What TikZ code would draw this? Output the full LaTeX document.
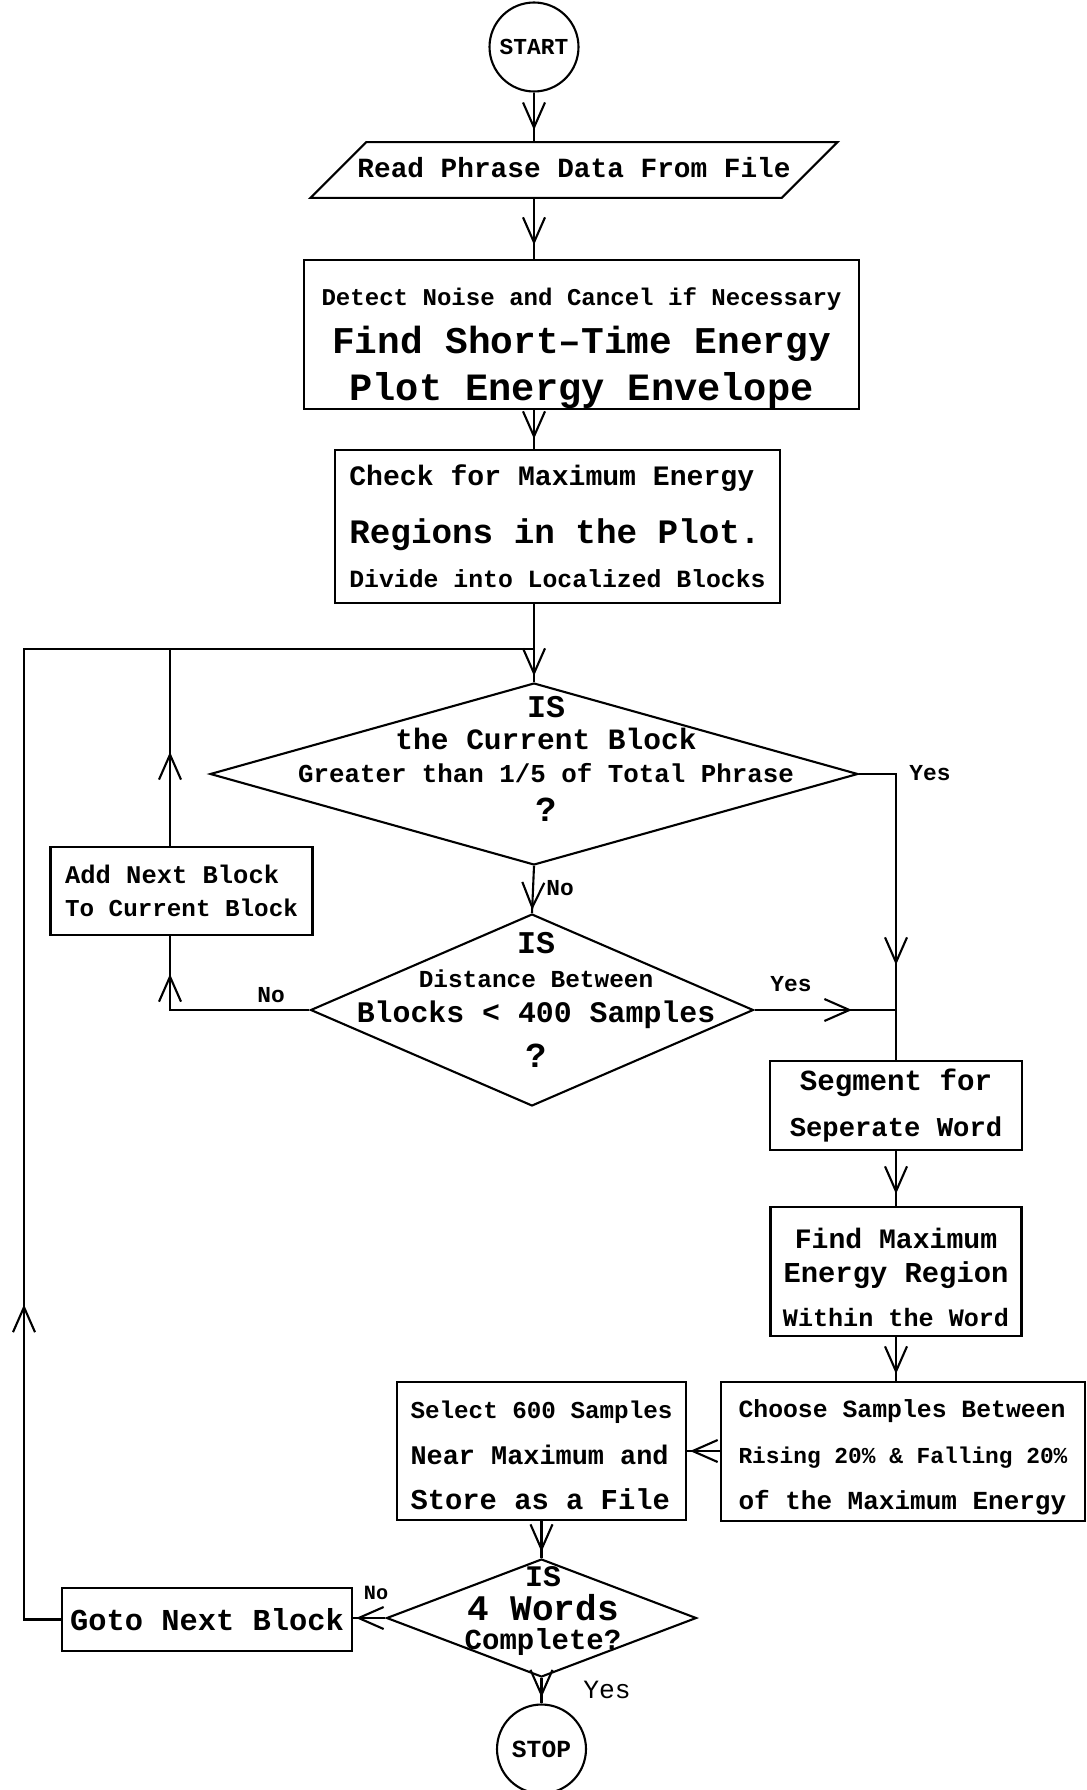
\documentclass[tikz,border=0pt]{standalone}
\usepackage{fontspec}
\setmainfont{Liberation Mono}
\usetikzlibrary{arrows.meta,positioning,shapes.geometric,decorations.markings}
\newcommand\fsz[2]{\fontsize{#1pt}{#2pt}\selectfont}
\tikzset{
  fctip/.tip    = {Straight Barb[length=5mm, width=4.4mm]},
  fcterm/.style = {circle, draw, line width=1.2pt, minimum size=1.78cm, inner sep=0pt},
  fcio/.style   = {trapezium, trapezium left angle=45, trapezium right angle=135,
                   draw, line width=1.2pt, inner xsep=-5pt,
                   inner ysep=8.5pt, text height=11.5pt, text depth=3.2pt,
                   font=\bfseries},
  fcbox/.style  = {rectangle, draw, line width=1.2pt, inner sep=0pt, align=center,
                   font=\bfseries},
  fcdec/.style  = {diamond, draw, line width=1.2pt, inner sep=0pt},
  fctext/.style = {inner sep=0pt, align=center, font=\bfseries},
  fclbl/.style  = {inner sep=1pt, font=\bfseries\fsz{13}{13}},
  fcflow/.style = {line width=1.2pt, postaction={decorate},
                   decoration={markings, mark=at position #1 with {\arrow{fctip}}}},
}
\begin{document}
\begin{tikzpicture}[x=0.02cm, y=-0.02cm]
  \useasboundingbox (0,0) rectangle (1087,1790);

  \node[fcterm, font=\bfseries\fsz{13}{13}] (start) at (534,47) {START};
  \node[fcio, font=\bfseries\fsz{15.8}{16}]
        (read) at (574,170) {Read Phrase Data From File};
  \node[fcbox, minimum width=11.1cm, minimum height=2.98cm, font=\bfseries\fsz{14}{27}]
        (noise) at (581.5,334.5)
        {\rule{0pt}{26pt}\fsz{13.7}{27}Detect Noise and Cancel if Necessary\\
         \fsz{21.5}{27}Find Short–Time Energy\\
         \fsz{22}{27}Plot Energy Envelope};
  \node[fcbox, align=left, minimum width=8.9cm, minimum height=3.06cm,
        font=\bfseries\fsz{14}{32.8}] (check) at (557.5,526.5)
        {\fsz{16}{32.8}Check for Maximum Energy\\
         \fsz{19.5}{32.8}Regions in the Plot.\\[-7.7pt]
         \fsz{14.1}{32.8}Divide into Localized Blocks};

  \coordinate (jtop)  at (534,649);
  \coordinate (loopa) at (170,649);
  \coordinate (lft)   at (24,649);

  \node[fcdec, minimum width=12.96cm, minimum height=3.64cm] (dec1) at (534,774) {};
  \node[fctext, font=\bfseries\fsz{14}{19}] (dec1txt) at (546,759)
        {\fsz{18}{19}IS\\[-0.7pt] \fsz{16.8}{19}the Current Block\\
         \fsz{14.7}{19}Greater than 1/5 of Total Phrase\\[3.2pt] \fsz{20}{19}?};
  \node[fcdec, minimum width=8.86cm, minimum height=3.84cm] (dec2) at (532,1010) {};
  \node[fctext, font=\bfseries\fsz{14}{20}] (dec2txt) at (536,1000)
        {\fsz{18}{20}IS\\[-0.8pt] \fsz{13.9}{20}Distance Between\\
         \fsz{17}{20}Blocks < 400 Samples\\[5.9pt] \fsz{20}{20}?};
  \node[fcbox, align=left, minimum width=5.24cm, minimum height=1.76cm,
        font=\bfseries\fsz{14}{19.1}] (addblk) at (181.5,891)
        {\fsz{14.5}{19.1}Add Next Block\\ \fsz{13.8}{19.1}To Current Block};

  \node[fcbox, minimum width=5.04cm, minimum height=1.78cm, font=\bfseries\fsz{16}{25.8}]
        (seg) at (896,1105.5)
        {\fsz{16.6}{25.8}Segment for\\ \fsz{15.5}{25.8}Seperate Word};
  \node[fcbox, minimum width=5.02cm, minimum height=2.58cm, font=\bfseries\fsz{16}{24.9}]
        (findmax) at (896,1271.5)
        {\rule{0pt}{18pt}\fsz{16}{24.9}Find Maximum\\[-5.5pt] \fsz{16.4}{24.9}Energy Region\\
         \fsz{14.3}{24.9}Within the Word};
  \node[fcbox, align=left, minimum width=7.28cm, minimum height=2.78cm,
        font=\bfseries\fsz{14}{26}] (choose) at (903,1451.5)
        {\rule{0pt}{16.8pt}\fsz{14.1}{26}Choose Samples Between\\
         \fsz{13}{26}Rising 20\% \& Falling 20\%\\
         \fsz{14.8}{26}of the Maximum Energy};
  \node[fcbox, align=left, minimum width=5.78cm, minimum height=2.76cm,
        font=\bfseries\fsz{14}{26}] (select) at (541.5,1451)
        {\rule{0pt}{15pt}\fsz{13.8}{26}Select 600 Samples\\ \fsz{15.3}{26}Near Maximum and\\
         \fsz{16.4}{26}Store as a File};

  \node[fcdec, minimum width=6.2cm, minimum height=2.36cm] (dec3) at (541.5,1618) {};
  \node[fctext, font=\bfseries\fsz{14}{17}] (dec3txt) at (543,1611)
        {\fsz{17}{17}IS\\[2.5pt] \fsz{20.5}{17}4 Words\\[-0.5pt] \fsz{16.5}{17}Complete?};
  \node[fcbox, minimum width=5.8cm, minimum height=1.26cm, font=\bfseries\fsz{17.3}{17.3}]
        (goto) at (207,1619.5) {Goto Next Block};
  \node[fcterm, font=\bfseries\fsz{14}{14}] (stop) at (541.5,1749) {STOP};

  \node[fclbl] (no1)  at (560,888)  {No};
  \node[fclbl] (yes1) at (930,773)  {Yes};
  \node[fclbl] (yes2) at (791,984)  {Yes};
  \node[fclbl] (no2)  at (271,995)  {No};
  \node[fclbl, font=\bfseries\fsz{11.5}{12}] (no3) at (376,1593) {No};
  \node[fclbl, font=\fsz{15}{15}] (yes3) at (607,1690) {Yes};

  \draw[fcflow=-0.22cm] (start) -- (start |- read.north);
  \draw[fcflow=-0.28cm] (start |- read.south) -- (start |- noise.north);
  \draw[fcflow=-0.2cm]  (start |- noise.south) -- (start |- check.north);
  \draw[fcflow=-0.12cm] (start |- check.south) -- (dec1.north);
  \draw[fcflow=-0.06cm] (dec1.south) -- (dec2.north);
  \draw[fcflow=-1.9cm]  (dec1.east) -| (seg.north);
  \draw[fcflow=-0.88cm] (dec2.east) -- (dec2.east -| seg.north);
  \draw[fcflow=-0.76cm] (dec2.west) -| (addblk.south -| loopa);
  \draw[fcflow=-2.06cm] (addblk.north -| loopa) -- (loopa);
  \draw[fcflow=-0.24cm] (seg) -- (findmax);
  \draw[fcflow=-0.14cm] (findmax.south) -- (findmax.south |- choose.north);
  \draw[fcflow=-0.06cm] (choose.west |- select.east) -- (select.east);
  \draw[fcflow=-0.12cm] (select) -- (dec3);
  \draw[fcflow=-0.06cm] (dec3.west) -- (dec3.west -| goto.east);
  \draw[fcflow=7.04cm]  (goto.west) -| (lft) -- (jtop);
  \draw[fcflow=-0.12cm] (dec3) -- (stop);
\end{tikzpicture}
\end{document}
